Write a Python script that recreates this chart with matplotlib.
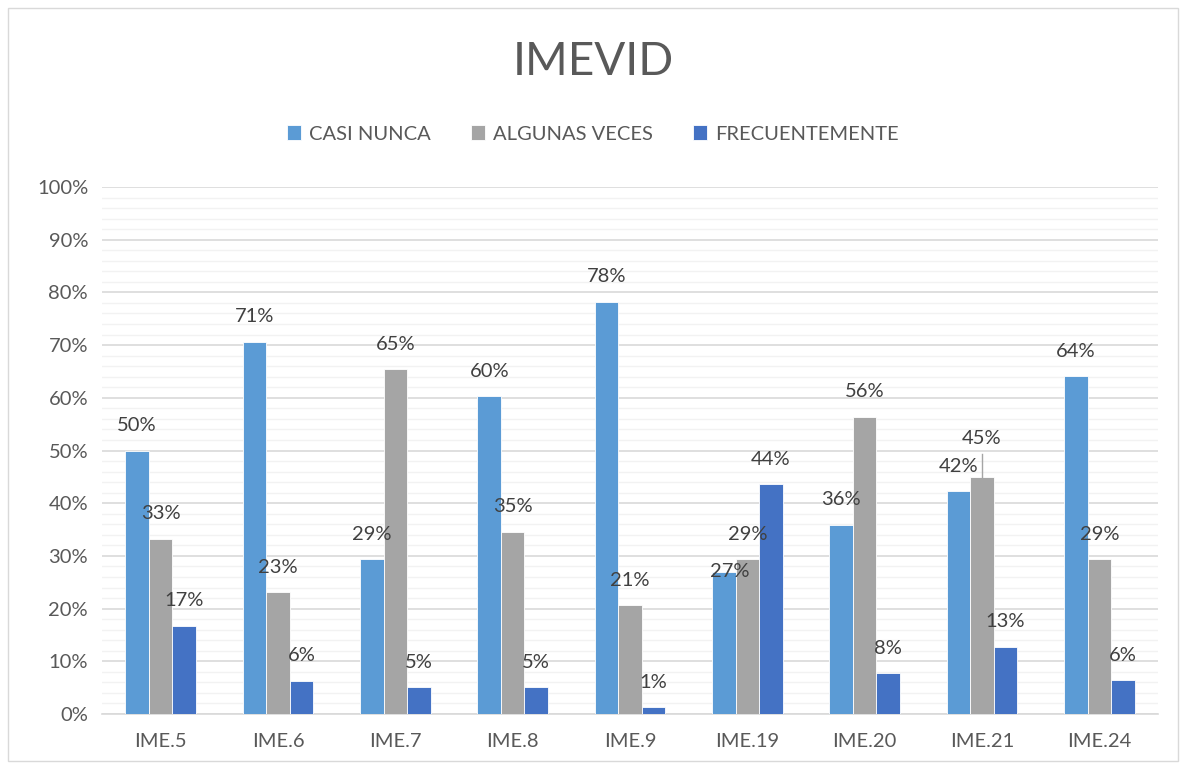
import numpy as np
import matplotlib
matplotlib.use("Agg")
import matplotlib.pyplot as plt
from matplotlib.patches import Rectangle

plt.rcParams['font.family'] = ['Lato', 'DejaVu Sans']

# Daten
kategorien = ["IME.5", "IME.6", "IME.7", "IME.8", "IME.9", "IME.19", "IME.20", "IME.21", "IME.24"]
casi_nunca = [50.0, 70.6, 29.4, 60.3, 78.2, 27.0, 35.9, 42.3, 64.1]
algunas_veces = [33.3, 23.1, 65.4, 34.6, 20.6, 29.4, 56.4, 44.9, 29.4]
frecuentemente = [16.7, 6.3, 5.1, 5.1, 1.3, 43.6, 7.7, 12.8, 6.4]
serien_namen = ["CASI NUNCA", "ALGUNAS VECES", "FRECUENTEMENTE"]
farben = ["#5B9BD5", "#A5A5A5", "#4472C4"]

textfarbe = "#595959"
fs = 14.5

fig = plt.figure(figsize=(11.86, 7.69), dpi=100)
ax = fig.add_axes([102/1186, 55/769, 1056/1186, 527/769])

x = np.arange(len(kategorien))
breite = 0.2
serien = [casi_nunca, algunas_veces, frecuentemente]

# Sonderfaelle fuer Beschriftungen (Serie, Kategorie) -> Offset in Punkten
sonder = {(0, 5): (4, 0), (1, 7): (0, 28)}

for s, (werte, farbe, name) in enumerate(zip(serien, farben, serien_namen)):
    pos = x + (s - 1) * breite
    ax.bar(pos, werte, width=breite, color=farbe, edgecolor="white", linewidth=0.6,
           label=name, zorder=3)
    for i, (px, v) in enumerate(zip(pos, werte)):
        off = sonder.get((s, i), (0, 18))
        ax.annotate(f"{v:.0f}%", (px, v), xytext=off, textcoords="offset points",
                    ha="center", va="center", fontsize=fs, color="#404040", zorder=5)
        if (s, i) == (1, 7):
            ax.plot([px, px], [v, v + 4.5], color="#A5A5A5", lw=1, zorder=4)

ax.set_xlim(-0.5, len(kategorien) - 0.5)
ax.set_ylim(0, 100)
ax.set_yticks(np.arange(0, 101, 10))
ax.set_yticks(np.arange(0, 101, 2), minor=True)
ax.set_yticklabels([f"{t}%" for t in range(0, 101, 10)])
ax.set_xticks(x)
ax.set_xticklabels(kategorien)
ax.tick_params(axis="both", which="both", length=0, labelsize=fs, labelcolor=textfarbe)
ax.tick_params(axis="x", pad=14)
ax.tick_params(axis="y", pad=10)

ax.grid(axis="y", which="major", color="#D9D9D9", lw=1.2, zorder=0)
ax.grid(axis="y", which="minor", color="#F2F2F2", lw=1.0, zorder=0)
for sp in ["top", "right", "left"]:
    ax.spines[sp].set_visible(False)
ax.spines["bottom"].set_color("#D9D9D9")
ax.spines["bottom"].set_linewidth(1.2)

fig.text(0.5, 1 - 62/769, "IMEVID", ha="center", va="center", fontsize=33, color=textfarbe)
fig.legend(loc="center", bbox_to_anchor=(0.5, 1 - 134/769), ncol=3, frameon=False,
           fontsize=fs, handlelength=0.7, handleheight=0.7, columnspacing=2.0,
           handletextpad=0.4, labelcolor=textfarbe)

fig.patches.append(Rectangle((8/1186, 8/769), 1170/1186, 753/769, transform=fig.transFigure,
                             fill=False, edgecolor="#D9D9D9", lw=1))

fig.savefig("out.png", dpi=100)
